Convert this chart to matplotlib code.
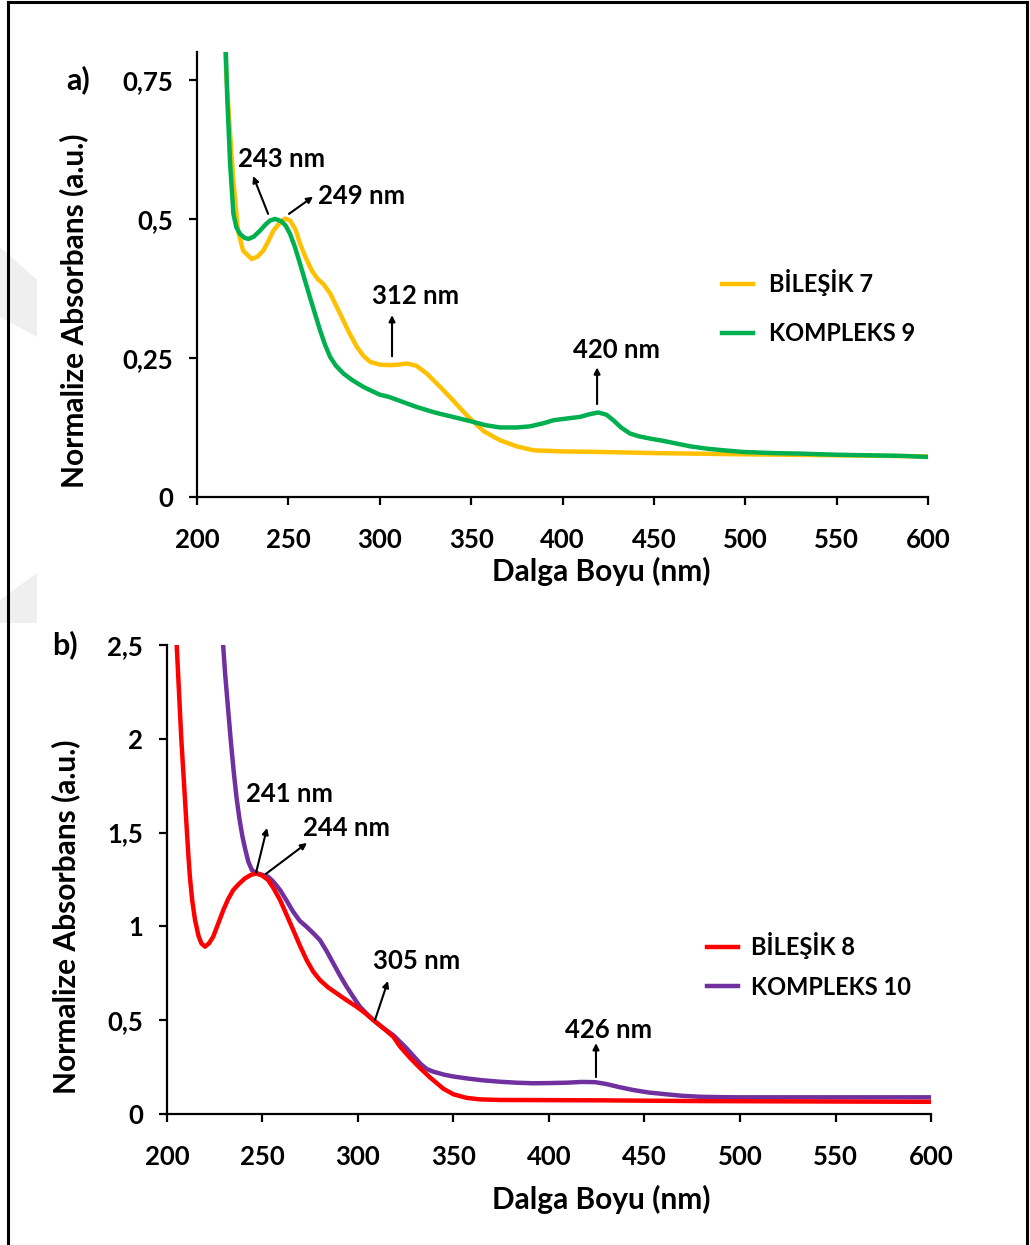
import matplotlib
matplotlib.use("Agg")
import matplotlib.pyplot as plt
from matplotlib.lines import Line2D
from matplotlib.patches import Polygon

plt.rcParams['font.family'] = ['Lato', 'DejaVu Sans']
plt.rcParams['font.weight'] = 'bold'

# --- panel a: BİLEŞİK 7 / KOMPLEKS 9 ---
wl_b7 = [214.8, 216, 218, 219.9, 222.4, 225.2, 229.9, 233, 236.3, 239, 241.8, 245, 248.2,
         251, 254, 256.4, 259.5, 262.8, 266, 269.1, 273, 278.2, 283, 287.4, 291, 294.7,
         300, 305.6, 310, 314.8, 320, 325.7, 330, 334.8, 340, 345, 350, 357, 365.8, 375,
         384, 400, 420.5, 450, 493, 550, 600]
abs_b7 = [0.85, 0.76, 0.658, 0.569, 0.479, 0.443, 0.428, 0.432, 0.443, 0.46, 0.479, 0.492, 0.5005,
          0.497, 0.48, 0.455, 0.43, 0.407, 0.392, 0.383, 0.365, 0.33, 0.297, 0.270, 0.254, 0.243,
          0.238, 0.237, 0.238, 0.240, 0.236, 0.222, 0.208, 0.192, 0.174, 0.156, 0.139, 0.118, 0.102, 0.091,
          0.084, 0.082, 0.081, 0.079, 0.077, 0.075, 0.073]

wl_k9 = [215.3, 216.5, 218.1, 219.9, 221.5, 223.5, 226, 228.1, 231, 234.5, 237.5, 239.9, 242.7,
         246, 248.5, 250.9, 253.5, 256.4, 259, 261.8, 264.5, 267.3, 270, 272.8, 276, 280.1,
         285, 291, 296, 300, 305, 310, 320, 330, 340, 350, 358, 365.8, 375, 382.2, 390, 395,
         402, 409.6, 415, 419.6, 424, 427.8, 432, 437, 442, 447.9, 455, 462.5, 470, 478.9,
         488, 498.9, 515, 530, 550, 566.5, 585, 600]
abs_k9 = [0.85, 0.72, 0.599, 0.509, 0.485, 0.473, 0.466, 0.464, 0.468, 0.479, 0.49, 0.497, 0.5,
          0.496, 0.488, 0.473, 0.45, 0.419, 0.39, 0.359, 0.33, 0.300, 0.274, 0.252, 0.236, 0.222,
          0.21, 0.198, 0.19, 0.184, 0.18, 0.174, 0.162, 0.152, 0.144, 0.136, 0.129, 0.125, 0.125, 0.127, 0.133, 0.138,
          0.141, 0.144, 0.149, 0.152, 0.148, 0.138, 0.125, 0.114, 0.109, 0.105, 0.101, 0.096, 0.091, 0.087,
          0.084, 0.081, 0.079, 0.078, 0.076, 0.075, 0.074, 0.072]

# --- panel b: BİLEŞİK 8 / KOMPLEKS 10 ---
wl_b8 = [204.8, 205.1, 207.5, 209, 210.3, 211.2, 212, 213.2, 214.7, 216.5, 218, 219.9, 222, 224.2,
         227, 229.5, 232, 234.7, 237.5, 240.8, 244, 247, 250, 253, 256, 259.2, 262.5, 266.1, 269.5,
         273.1, 276.5, 280.1, 284.5, 288.9, 294, 299.3, 303.5, 308, 313, 318.5, 322, 327.2, 332.5,
         337.7, 344.7, 350, 356.9, 364, 374.4, 400, 426.7, 479, 540, 600]
abs_b8 = [2.6, 2.5, 2.0, 1.75, 1.53, 1.38, 1.265, 1.14, 1.034, 0.95, 0.91, 0.892, 0.91, 0.945,
          1.02, 1.087, 1.145, 1.194, 1.225, 1.256, 1.275, 1.283, 1.27, 1.247, 1.2, 1.141, 1.065, 0.981, 0.9,
          0.821, 0.76, 0.714, 0.674, 0.643, 0.607, 0.572, 0.54, 0.501, 0.46, 0.412, 0.36, 0.30, 0.245,
          0.195, 0.135, 0.105, 0.086, 0.078, 0.075, 0.074, 0.073, 0.069, 0.067, 0.065]

wl_k10 = [229.0, 230.5, 232, 233.5, 235, 236.5, 238, 239.5, 241, 242.6, 244.5, 247, 250, 253, 256,
          259.2, 262.5, 266.1, 269.5, 273.1, 276.5, 280.1, 283.5, 287.1, 290.5, 294.1, 297.5, 301,
          304.5, 308, 313, 318.5, 322, 325, 329, 333, 336, 339.4, 345, 350, 356.9, 365, 374.4, 383,
          391.8, 400, 409.3, 417, 424, 430, 437, 444.1, 452, 461.6, 470, 479, 490, 500, 514, 550, 582, 600]
abs_k10 = [2.56, 2.34, 2.16, 1.98, 1.82, 1.68, 1.57, 1.48, 1.41, 1.345, 1.3, 1.283, 1.275, 1.265, 1.235,
           1.194, 1.14, 1.078, 1.03, 0.998, 0.965, 0.927, 0.87, 0.803, 0.74, 0.678, 0.625, 0.572,
           0.535, 0.501, 0.46, 0.42, 0.385, 0.355, 0.31, 0.265, 0.24, 0.226, 0.21, 0.2, 0.19, 0.18, 0.172, 0.167,
           0.164, 0.165, 0.167, 0.171, 0.170, 0.16, 0.143, 0.128, 0.115, 0.105, 0.097, 0.092, 0.09, 0.089, 0.089,
           0.089, 0.089, 0.089]

# peak labels: (text, text x, text y, arrow tail x, tail y, head x, head y, ha)
peaks_a = [("243 nm", 246.0, 0.608, 238.9, 0.509, 230.7, 0.577, 'center'),
           ("249 nm", 266.2, 0.542, 250.3, 0.509, 263.5, 0.540, 'left'),
           ("312 nm", 319.8, 0.361, 306.7, 0.253, 306.7, 0.327, 'center'),
           ("420 nm", 429.8, 0.264, 418.9, 0.167, 418.9, 0.233, 'center')]
peaks_b = [("241 nm", 264.4, 1.706, 246.6, 1.285, 252.4, 1.525, 'center'),
           ("244 nm", 271.2, 1.525, 251.8, 1.28, 273.3, 1.445, 'left'),
           ("305 nm", 330.9, 0.816, 308.9, 0.501, 315.7, 0.709, 'center'),
           ("426 nm", 431.4, 0.448, 424.6, 0.197, 424.6, 0.378, 'center')]

FS_TICK = 18.5
FS_LAB = 21.5
FS_ANN = 18.5
FS_LEG = 17

fig = plt.figure(figsize=(10.30, 12.45), dpi=100)
ax1 = fig.add_axes([0.1913, 0.6008, 0.7097, 0.3574])
ax2 = fig.add_axes([0.1621, 0.1052, 0.7418, 0.3767])


def style_axes(ax, ylim, yticks, yticklabels):
    ax.set_xlim(200, 600)
    ax.set_ylim(*ylim)
    ax.set_xticks([200, 250, 300, 350, 400, 450, 500, 550, 600])
    ax.set_yticks(yticks)
    ax.set_yticklabels(yticklabels)
    for s in ['top', 'right']:
        ax.spines[s].set_visible(False)
    for s in ['left', 'bottom']:
        ax.spines[s].set_linewidth(1.6)
    ax.tick_params(axis='both', direction='out', length=6, width=1.6, labelsize=FS_TICK)
    ax.tick_params(axis='x', pad=16)
    ax.tick_params(axis='y', pad=11)
    ax.set_xlabel("Dalga Boyu (nm)", fontsize=FS_LAB, fontweight='bold')
    ax.set_ylabel("Normalize Absorbans (a.u.)", fontsize=FS_LAB, fontweight='bold')


def add_peaks(ax, peaks):
    for txt, tx, ty, x0, y0, x1, y1, ha in peaks:
        ax.annotate("", xy=(x1, y1), xytext=(x0, y0),
                    arrowprops=dict(arrowstyle='-|>', color='black', lw=1.5,
                                    mutation_scale=9, shrinkA=0, shrinkB=0))
        ax.text(tx, ty, txt, fontsize=FS_ANN, fontweight='bold', ha=ha, va='center')


# panel a
ax1.plot(wl_b7, abs_b7, color='#FFC000', lw=3.2, label="BİLEŞİK 7")
ax1.plot(wl_k9, abs_k9, color='#00B050', lw=3.2, label="KOMPLEKS 9")
style_axes(ax1, (0, 0.8), [0, 0.25, 0.5, 0.75], ["0", "0,25", "0,5", "0,75"])
ax1.xaxis.set_label_coords(0.553, -0.135)
ax1.yaxis.set_label_coords(-0.149, 0.418)
add_peaks(ax1, peaks_a)
leg1 = ax1.legend(loc='upper left', bbox_to_anchor=(0.718, 0.512), frameon=False,
                  fontsize=FS_LEG, handlelength=1.3, handletextpad=0.7, labelspacing=1.1,
                  borderpad=0, borderaxespad=0)
for t in leg1.get_texts():
    t.set_fontweight('bold')

# panel b
l_k10, = ax2.plot(wl_k10, abs_k10, color='#7030A0', lw=3.2, label="KOMPLEKS 10", zorder=2)
l_b8, = ax2.plot(wl_b8, abs_b8, color='#FF0000', lw=3.2, label="BİLEŞİK 8", zorder=3)
style_axes(ax2, (0, 2.5), [0, 0.5, 1, 1.5, 2, 2.5], ["0", "0,5", "1", "1,5", "2", "2,5"])
ax2.xaxis.set_label_coords(0.568, -0.151)
ax2.yaxis.set_label_coords(-0.114, 0.42)
add_peaks(ax2, peaks_b)
leg2 = ax2.legend(handles=[l_b8, l_k10], loc='upper left', bbox_to_anchor=(0.707, 0.388),
                  frameon=False, fontsize=FS_LEG, handlelength=1.3, handletextpad=0.55,
                  labelspacing=0.7, borderpad=0, borderaxespad=0)
for t in leg2.get_texts():
    t.set_fontweight('bold')

# panel letters
fig.text(78 / 1030, 1 - 80 / 1245, "a)", fontsize=22, fontweight='bold', ha='center', va='center')
fig.text(65 / 1030, 1 - 645 / 1245, "b)", fontsize=22, fontweight='bold', ha='center', va='center')

# faint watermark shapes at the left edge
W, H = 1030, 1245
wm1 = [(0, 247), (37, 280), (37, 337), (0, 317)]
wm2 = [(37, 573), (37, 623), (0, 623), (0, 600)]
for poly in [wm1, wm2]:
    fig.patches.append(Polygon([(x / W, 1 - y / H) for x, y in poly], closed=True,
                               transform=fig.transFigure, facecolor='#efefef',
                               edgecolor='none', zorder=0))

# outer frame (top, left, right)
fig.lines.append(Line2D([8 / W, 8 / W], [0, 1 - 2 / H], transform=fig.transFigure, color='black', lw=2.2))
fig.lines.append(Line2D([1027 / W, 1027 / W], [0, 1 - 2 / H], transform=fig.transFigure, color='black', lw=2.2))
fig.lines.append(Line2D([8 / W, 1027 / W], [1 - 2 / H, 1 - 2 / H], transform=fig.transFigure, color='black', lw=2.2))

fig.savefig("out.png", dpi=100)
